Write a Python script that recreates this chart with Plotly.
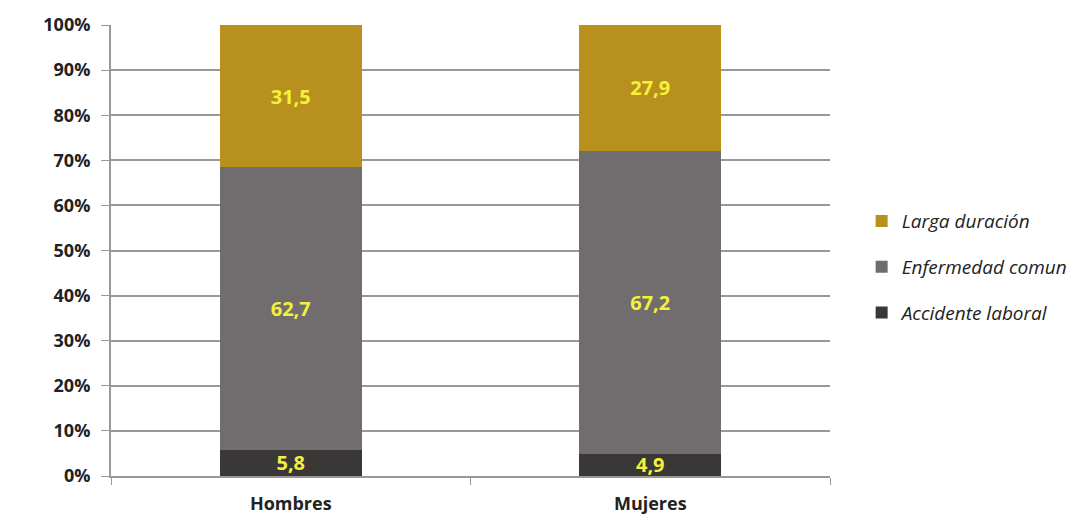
import plotly.graph_objects as go

categories = ["Hombres", "Mujeres"]
accidente = [5.8, 4.9]
enfermedad = [62.7, 67.2]
larga = [31.5, 27.9]
series_names = ["Accidente laboral", "Enfermedad comun", "Larga duración"]
colors = ["#3a3737", "#716d6e", "#b8901e"]
y_ticks = [0, 10, 20, 30, 40, 50, 60, 70, 80, 90, 100]
y_tick_text = [f"{v}%" for v in y_ticks]

fig = go.Figure()
for i, (name, vals, col) in enumerate(zip(series_names, [accidente, enfermedad, larga], colors)):
    fig.add_trace(go.Bar(
        x=categories, y=vals, name=name, marker=dict(color=col, line=dict(width=0)),
        width=0.395, text=vals, texttemplate="%{y:.1f}", textposition="inside",
        insidetextanchor="middle", textangle=0, constraintext="none",
        textfont=dict(family="Open Sans", size=20, color="#f5f03a", weight="bold"),
        legendgroup=name, legendrank=3 - i,
    ))

fig.update_layout(
    barmode="stack",
    separators=",.",
    width=1084, height=517,
    margin=dict(l=103, r=262, t=17, b=49, autoexpand=False),
    paper_bgcolor="white", plot_bgcolor="white",
    font=dict(family="Open Sans", color="#222"),
    showlegend=True,
    legend=dict(
        x=1.044, y=0.463, xanchor="left", yanchor="middle",
        traceorder="grouped", tracegroupgap=18,
        font=dict(family="Open Sans", size=19, color="#222", style="italic"),
        itemwidth=30,
    ),
    xaxis=dict(
        type="category", range=[-0.5, 1.5], tickson="boundaries", ticks="outside",
        ticklen=7, tickcolor="#999", showline=True, linecolor="#999", linewidth=2,
        tickfont=dict(family="Open Sans", size=18, color="#222", weight="bold"),
        showgrid=False, automargin=False, ticklabelstandoff=10,
    ),
    yaxis=dict(
        range=[0, 100], tickvals=y_ticks, ticktext=y_tick_text, ticks="outside",
        ticklen=8, tickcolor="#999", showline=True, linecolor="#999", linewidth=2,
        showgrid=True, gridcolor="#999", gridwidth=1.5,
        tickfont=dict(family="Open Sans", size=18, color="#222", weight="bold"),
        zeroline=False, automargin=False, ticklabelstandoff=7,
    ),
)

fig.write_html("out.html")
